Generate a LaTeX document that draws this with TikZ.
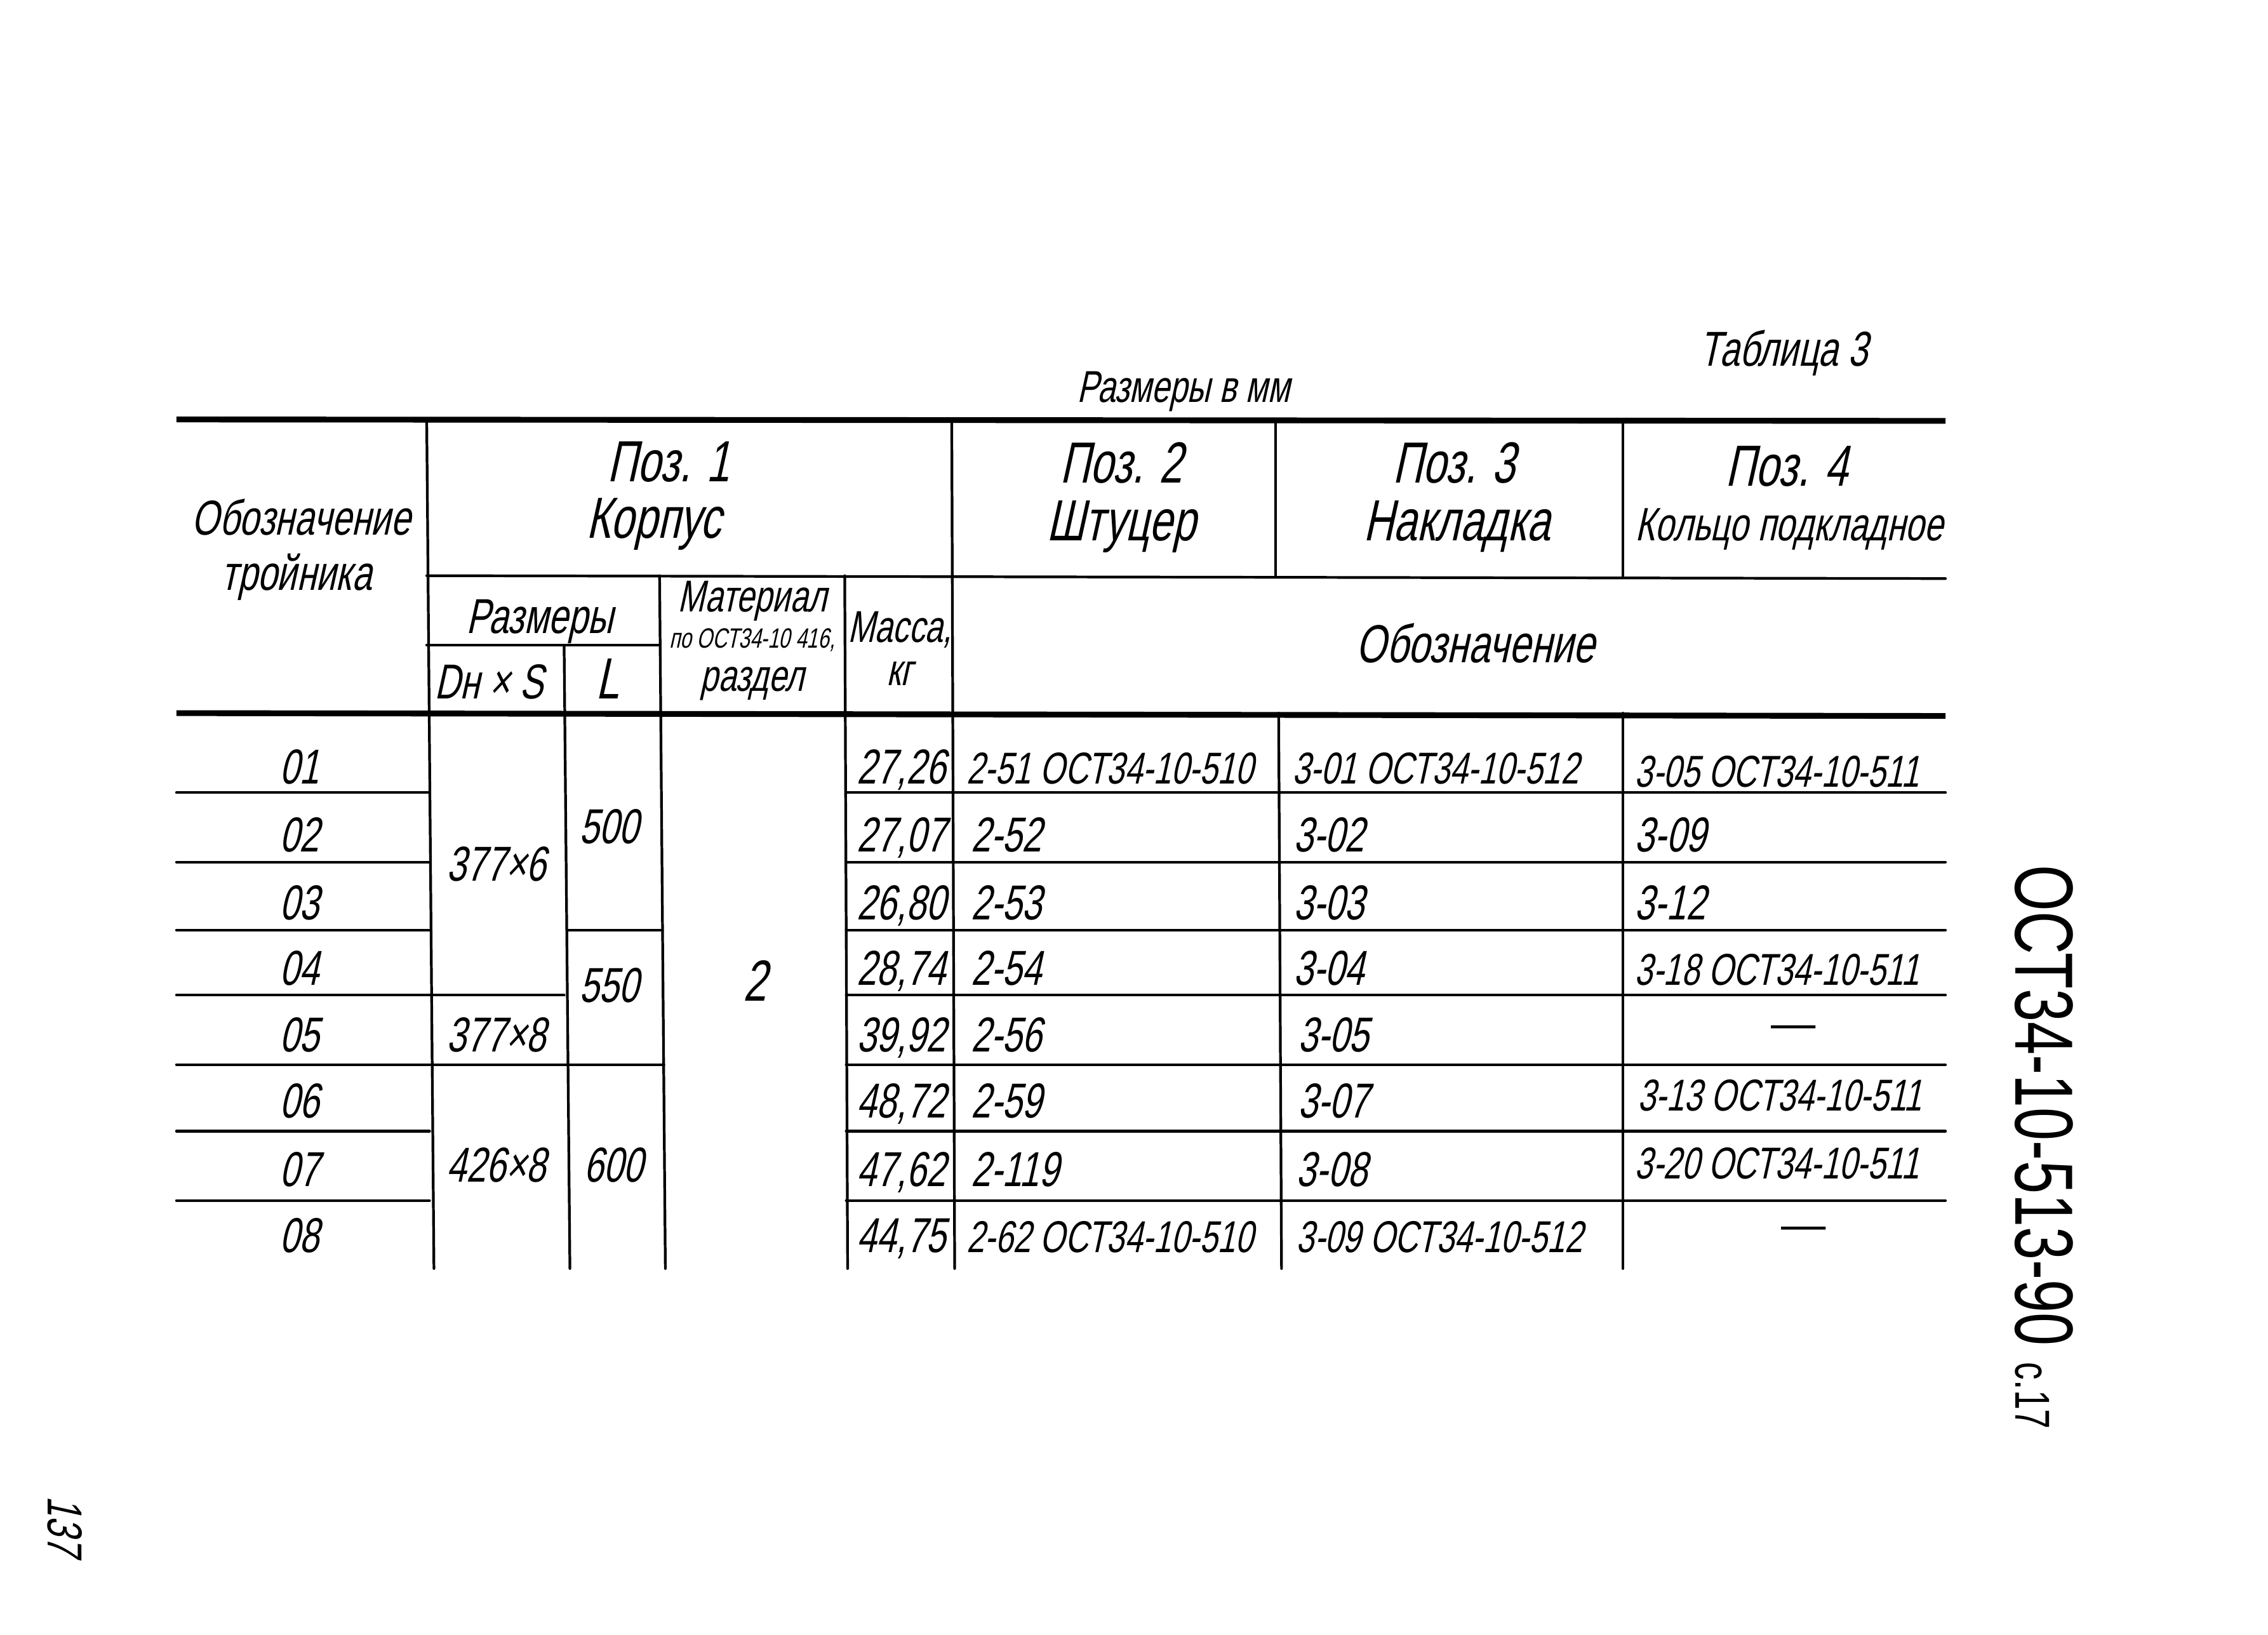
\documentclass[tikz,border=0pt]{standalone}
\usepackage{fontspec}
\newfontfamily\gost{Liberation Sans}[FakeStretch=0.72,FakeSlant=0.22]
\newfontfamily\gostup{Liberation Sans}[FakeStretch=0.72]
\newfontfamily\plainsans{Liberation Sans}
\begin{document}
\begin{tikzpicture}[x=0.02278cm,y=-0.02278cm,
  rule/.style={line width=1.2pt,line cap=round},
  boldrule/.style={line width=2.6pt},
  t/.style={inner sep=0pt,font=\gost\fontsize{22}{24}\selectfont},
  tl/.style={inner sep=0pt,font=\gost\fontsize{20}{22}\selectfont},
  th/.style={inner sep=0pt,font=\gost\fontsize{26}{28}\selectfont},
  tm/.style={inner sep=0pt,font=\gost\fontsize{20}{22}\selectfont},
  ts/.style={inner sep=0pt,font=\gost\fontsize{12.5}{14}\selectfont},
  dashmark/.style={inner sep=0pt,anchor=base,font=\plainsans\fontsize{20}{20}\selectfont}]
\useasboundingbox (0,0) rectangle (1568,1130);

% ---------- titles ----------
\node[tm,anchor=base,font=\gost\fontsize{22}{24}\selectfont] (tab) at (1233,253) {Таблица 3};
\node[tm,anchor=base] (units) at (818,278) {Размеры в мм};

% ---------- rules ----------
\draw[boldrule] (122,290) -- (1345,291);
\draw[boldrule] (122,493) -- (1345,495);
\draw[rule] (295,398) -- (1345,400);
\draw[rule] (295,446) -- (456,446);
% verticals
\draw[rule] (295,290) -- (300,877);
\draw[rule] (390,446) -- (394,877);
\draw[rule] (456,398) -- (460,877);
\draw[rule] (584,398) -- (586,877);
\draw[rule] (658,290) -- (660,877);
\draw[rule] (882,290) -- (882,398);
\draw[rule] (884,493) -- (886,877);
\draw[rule] (1122,290) -- (1122,398);
\draw[rule] (1122,493) -- (1122,877);
% row rules, first column
\foreach \y in {548,596,643,688,736,782,830}
  \draw[rule] (122,\y) -- (297,\y);
% Dн x S column
\draw[rule] (297,688) -- (390,688);
\draw[rule] (298,736) -- (392,736);
% L column
\draw[rule] (392,643) -- (458,643);
\draw[rule] (392,736) -- (459,736);
% mass and designation columns
\foreach \y in {548,596,643,688,736,782,830}
  \draw[rule] (585,\y) -- (1345,\y);

% ---------- header ----------
\node[t,anchor=base] (h1a) at (208,370) {Обозначение};
\node[t,anchor=base] (h1b) at (205,408) {тройника};
\node[th,anchor=base] (p1a) at (462,333) {Поз. 1};
\node[th,anchor=base] (p1b) at (452,372) {Корпус};
\node[th,anchor=base] (p2a) at (775,334) {Поз. 2};
\node[th,anchor=base] (p2b) at (775,374) {Штуцер};
\node[th,anchor=base] (p3a) at (1005,334) {Поз. 3};
\node[th,anchor=base] (p3b) at (1007,374) {Накладка};
\node[th,anchor=base] (p4a) at (1235,336) {Поз. 4};
\node[t,anchor=base,font=\gost\fontsize{21}{24}\selectfont] (p4b) at (1237,374) {Кольцо подкладное};
\node[t,anchor=base] (razm) at (373,438) {Размеры};
\node[t,anchor=base] (dns) at (338,483) {Dн × S};
\node[th,anchor=base] (ll) at (420,483) {L};
\node[tm,anchor=base] (mat1) at (520,423) {Материал};
\node[ts,anchor=base] (mat2) at (520,448) {по ОСТ34-10 416,};
\node[tm,anchor=base] (mat3) at (520,478) {раздел};
\node[tm,anchor=base] (mas1) at (622,444) {Масса,};
\node[tm,anchor=base] (mas2) at (622,474) {кг};
\node[t,anchor=base,font=\gost\fontsize{24}{26}\selectfont] (obz) at (1020,458) {Обозначение};

% ---------- first column ----------
\node[t,anchor=base] (r1) at (207,542) {01};
\node[t,anchor=base] (r2) at (207,589) {02};
\node[t,anchor=base] (r3) at (207,636) {03};
\node[t,anchor=base] (r4) at (207,681) {04};
\node[t,anchor=base] (r5) at (207,727) {05};
\node[t,anchor=base] (r6) at (207,773) {06};
\node[t,anchor=base] (r7) at (207,820) {07};
\node[t,anchor=base] (r8) at (207,866) {08};

% ---------- sizes ----------
\node[t,anchor=base] (d1) at (343,609) {377×6};
\node[t,anchor=base] (d2) at (343,727) {377×8};
\node[t,anchor=base] (d3) at (343,817) {426×8};
\node[t,anchor=base] (l1) at (421,583) {500};
\node[t,anchor=base] (l2) at (421,693) {550};
\node[t,anchor=base] (l3) at (424,817) {600};
\node[th,anchor=base] (sec) at (522,692) {2};

% ---------- mass ----------
\node[t,anchor=base east] (m1) at (654,542) {27,26};
\node[t,anchor=base east] (m2) at (654,589) {27,07};
\node[t,anchor=base east] (m3) at (654,636) {26,80};
\node[t,anchor=base east] (m4) at (654,681) {28,74};
\node[t,anchor=base east] (m5) at (654,727) {39,92};
\node[t,anchor=base east] (m6) at (654,773) {48,72};
\node[t,anchor=base east] (m7) at (654,820) {47,62};
\node[t,anchor=base east] (m8) at (654,866) {44,75};

% ---------- pos. 2 ----------
\node[tl,anchor=base west] (a1) at (668,542) {2-51 ОСТ34-10-510};
\node[t,anchor=base west] (a2) at (671,589) {2-52};
\node[t,anchor=base west] (a3) at (671,636) {2-53};
\node[t,anchor=base west] (a4) at (671,681) {2-54};
\node[t,anchor=base west] (a5) at (671,727) {2-56};
\node[t,anchor=base west] (a6) at (671,773) {2-59};
\node[t,anchor=base west] (a7) at (671,820) {2-119};
\node[tl,anchor=base west] (a8) at (668,866) {2-62 ОСТ34-10-510};

% ---------- pos. 3 ----------
\node[tl,anchor=base west] (b1) at (893,542) {3-01 ОСТ34-10-512};
\node[t,anchor=base west] (b2) at (894,589) {3-02};
\node[t,anchor=base west] (b3) at (894,636) {3-03};
\node[t,anchor=base west] (b4) at (894,681) {3-04};
\node[t,anchor=base west] (b5) at (897,727) {3-05};
\node[t,anchor=base west] (b6) at (897,773) {3-07};
\node[t,anchor=base west] (b7) at (896,820) {3-08};
\node[tl,anchor=base west] (b8) at (896,866) {3-09 ОСТ34-10-512};

% ---------- pos. 4 ----------
\node[tl,anchor=base west] (c1) at (1130,544) {3-05 ОСТ34-10-511};
\node[t,anchor=base west] (c2) at (1130,589) {3-09};
\node[t,anchor=base west] (c3) at (1130,636) {3-12};
\node[tl,anchor=base west] (c4) at (1130,681) {3-18 ОСТ34-10-511};
\node[dashmark] (c5) at (1240,718) {—};
\node[tl,anchor=base west] (c6) at (1132,768) {3-13 ОСТ34-10-511};
\node[tl,anchor=base west] (c7) at (1130,815) {3-20 ОСТ34-10-511};
\node[dashmark] (c8) at (1247,857) {—};

% ---------- margin texts ----------
\node[inner sep=0pt,rotate=-90,anchor=west,font=\gostup\fontsize{37}{37}\selectfont] (doc) at (1413,598) {ОСТ34-10-513-90 {\fontsize{22}{22}\selectfont с.17}};
\node[inner sep=0pt,rotate=-90,font=\gost\fontsize{22}{22}\selectfont] (page) at (45,1055) {137};
\end{tikzpicture}
\end{document}
